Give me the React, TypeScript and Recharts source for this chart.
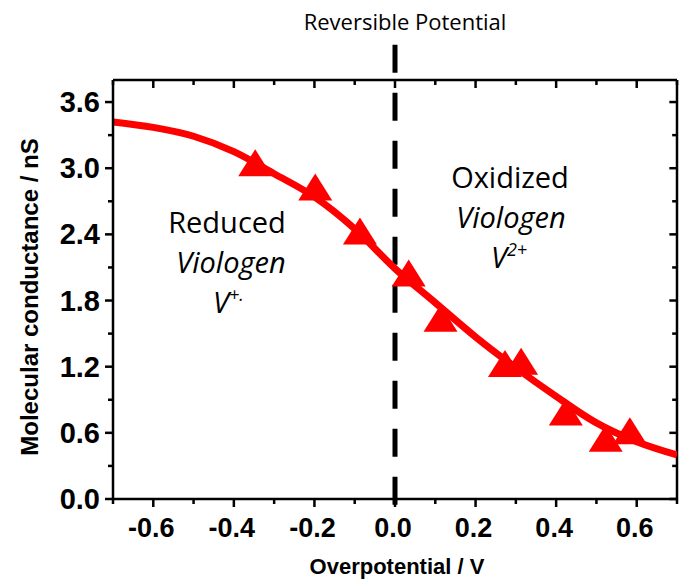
import React from 'react';
import { ComposedChart, Line, Scatter, XAxis, YAxis, ReferenceLine } from 'recharts';

// Fitted curve
const curveX = [-0.7, -0.6, -0.5, -0.4, -0.3, -0.2, -0.1, 0.0, 0.1, 0.2, 0.3, 0.4, 0.5, 0.6, 0.7];
const curveY = [3.42, 3.37, 3.29, 3.15, 2.95, 2.74, 2.45, 2.09, 1.78, 1.47, 1.19, 0.93, 0.69, 0.52, 0.4];

// Measured points (triangles)
const pointX = [-0.347, -0.198, -0.087, 0.034, 0.113, 0.273, 0.313, 0.424, 0.523, 0.583];
const pointY = [3.05, 2.83, 2.43, 2.05, 1.64, 1.23, 1.25, 0.79, 0.55, 0.62];

const xTicks = [-0.7, -0.6, -0.5, -0.4, -0.3, -0.2, -0.1, 0, 0.1, 0.2, 0.3, 0.4, 0.5, 0.6, 0.7];
const yTicks = [0, 0.3, 0.6, 0.9, 1.2, 1.5, 1.8, 2.1, 2.4, 2.7, 3.0, 3.3, 3.6];

const X_MIN = -0.7;
const X_MAX = 0.7;
const Y_MIN = 0;
const Y_MAX = 3.8;

const curveData = curveX.map((x, i) => ({ x, y: curveY[i] }));
const pointData = pointX.map((x, i) => ({ x, y: pointY[i] }));

const RED = '#ff0000';
const TICK_FONT = '"Liberation Sans", Arial, sans-serif';
const ANN_FONT = '"Open Sans", "Noto Sans", sans-serif';

const isMajorX = (v: number) => Math.abs(Math.round(v * 10)) % 2 === 0;
const isMajorY = (v: number) => Math.round(v * 10) % 6 === 0;

const BottomTick = (props: any) => {
  const { x, y, payload } = props;
  const v = payload.value;
  const major = isMajorX(v);
  return (
    <g>
      <line x1={x} x2={x} y1={y} y2={y + (major ? 8 : 5)} stroke="#000" strokeWidth={2.5} />
      {major && Math.abs(v) < 0.69 && (
        <text x={x - 2} y={y + 38} textAnchor="middle" fontFamily={TICK_FONT} fontWeight="bold" fontSize={27} fill="#000">
          {v.toFixed(1)}
        </text>
      )}
    </g>
  );
};

const TopTick = (props: any) => {
  const { x, y, payload } = props;
  const major = isMajorX(payload.value);
  return <line x1={x} x2={x} y1={y} y2={y + (major ? 8 : 5)} stroke="#000" strokeWidth={2.5} />;
};

const LeftTick = (props: any) => {
  const { x, y, payload } = props;
  const v = payload.value;
  const major = isMajorY(v);
  return (
    <g>
      <line x1={x - (major ? 8 : 5)} x2={x} y1={y} y2={y} stroke="#000" strokeWidth={2.5} />
      {major && (
        <text x={x - 13} y={y + 10} textAnchor="end" fontFamily={TICK_FONT} fontWeight="bold" fontSize={29} fill="#000">
          {v.toFixed(1)}
        </text>
      )}
    </g>
  );
};

const Triangle = (props: any) => {
  const { cx, cy } = props;
  if (cx == null || cy == null) return null;
  const w = 17;
  const h = 13.5;
  return <polygon points={`${cx},${cy - h} ${cx + w},${cy + h} ${cx - w},${cy + h}`} fill={RED} />;
};

export default function App() {
  return (
    <div style={{ position: 'absolute', left: 0, top: 0, width: 680, height: 581, background: '#fff' }}>
      <ComposedChart width={680} height={581} margin={{ top: 79, right: 3, bottom: 0, left: 0 }}>
        <XAxis
          dataKey="x"
          type="number"
          domain={[X_MIN, X_MAX]}
          ticks={xTicks}
          interval={0}
          allowDataOverflow
          height={82}
          tickSize={0}
          tickMargin={0}
          tick={BottomTick}
          axisLine={{ stroke: '#000', strokeWidth: 2.5 }}
        />
        <XAxis
          xAxisId="top"
          orientation="top"
          dataKey="x"
          type="number"
          domain={[X_MIN, X_MAX]}
          ticks={xTicks}
          interval={0}
          allowDataOverflow
          height={1}
          tickSize={0}
          tickMargin={0}
          tick={TopTick}
          axisLine={{ stroke: '#000', strokeWidth: 2.5 }}
        />
        <YAxis
          type="number"
          domain={[Y_MIN, Y_MAX]}
          ticks={yTicks}
          interval={0}
          allowDataOverflow
          width={113}
          tickSize={0}
          tickMargin={0}
          tick={LeftTick}
          axisLine={{ stroke: '#000', strokeWidth: 2.5 }}
        />
        <ReferenceLine
          x={X_MAX}
          ifOverflow="visible"
          stroke="#000"
          strokeWidth={2.5}
        />
        {yTicks.map((v) => (
          <ReferenceLine
            key={`rt${v}`}
            segment={[{ x: X_MAX - (isMajorY(v) ? 0.019 : 0.012), y: v }, { x: X_MAX, y: v }]}
            ifOverflow="visible"
            stroke="#000"
            strokeWidth={2.5}
          />
        ))}
        <ReferenceLine
          segment={[{ x: 0, y: 4.12 }, { x: 0, y: -0.08 }]}
          ifOverflow="visible"
          stroke="#000"
          strokeWidth={5}
          strokeDasharray="28 20"
        />
        <Line
          data={curveData}
          dataKey="y"
          xAxisId="top"
          type="monotone"
          stroke="none"
          dot={false}
          activeDot={false}
          isAnimationActive={false}
        />
        <Line
          data={curveData}
          dataKey="y"
          type="monotone"
          stroke={RED}
          strokeWidth={7}
          dot={false}
          activeDot={false}
          isAnimationActive={false}
        />
        <Scatter data={pointData} dataKey="y" fill={RED} shape={Triangle} isAnimationActive={false} />
      </ComposedChart>
      <svg width={680} height={581} style={{ position: 'absolute', left: 0, top: 0, pointerEvents: 'none' }}>
        <text x={405} y={30} textAnchor="middle" fontFamily={ANN_FONT} fontSize={22} fill="#000">
          Reversible Potential
        </text>
        <text x={227} y={233} textAnchor="middle" fontFamily={ANN_FONT} fontSize={29} fill="#000">
          Reduced
        </text>
        <text x={231} y={273} textAnchor="middle" fontFamily={ANN_FONT} fontSize={29} fontStyle="italic" fill="#000">
          Viologen
        </text>
        <text x={213} y={313} fontFamily={ANN_FONT} fontSize={29} fontStyle="italic" fill="#000">
          V<tspan fontSize={18} dy={-12}>+.</tspan>
        </text>
        <text x={510} y={188} textAnchor="middle" fontFamily={ANN_FONT} fontSize={29} fill="#000">
          Oxidized
        </text>
        <text x={511} y={228} textAnchor="middle" fontFamily={ANN_FONT} fontSize={29} fontStyle="italic" fill="#000">
          Viologen
        </text>
        <text x={491} y={268} fontFamily={ANN_FONT} fontSize={29} fontStyle="italic" fill="#000">
          V<tspan fontSize={18} dy={-12}>2+</tspan>
        </text>
        <text x={397} y={574} textAnchor="middle" fontFamily={TICK_FONT} fontWeight="bold" fontSize={22} fill="#000">
          Overpotential / V
        </text>
        <text
          x={0}
          y={0}
          transform="translate(38, 297) rotate(-90)"
          textAnchor="middle"
          fontFamily={TICK_FONT}
          fontWeight="bold"
          fontSize={24}
          fill="#000"
        >
          Molecular conductance / nS
        </text>
      </svg>
    </div>
  );
}
